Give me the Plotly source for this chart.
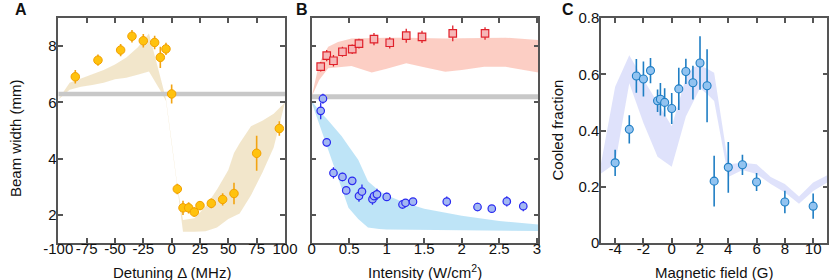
import plotly.graph_objects as go

# ---------------- Panel A data ----------------
a_detuning = [-85, -65, -45, -35, -25, -15, -10, -5, 0, 5, 10, 15, 20, 25, 35, 45, 55, 75, 95]
a_width = [6.91, 7.5, 7.86, 8.35, 8.19, 8.13, 7.6, 7.9, 6.3, 2.92, 2.25, 2.25, 2.1, 2.33, 2.41, 2.55, 2.76, 4.19, 5.07]
a_err = [0.24, 0.2, 0.22, 0.22, 0.24, 0.24, 0.38, 0.22, 0.34, 0.19, 0.25, 0.2, 0.17, 0.15, 0.17, 0.22, 0.38, 0.62, 0.26]

a_band_x = [-100, -90, -80, -70, -60, -50, -40, -30, -20, -10, -5, 0, 5, 10, 20, 30, 40, 50, 55, 60, 70, 80, 90, 100]
a_band_upper = [6.1, 6.7, 6.85, 7.0, 7.15, 7.35, 7.6, 7.95, 8.45, 6.9, 6.12, 4.6, 3.05, 1.82, 1.88, 2.3, 2.9, 3.6, 4.2, 4.55, 5.15, 5.35, 5.6, 6.0]
a_band_lower = [6.1, 6.45, 6.56, 6.62, 6.7, 6.82, 6.88, 6.98, 7.1, 6.42, 6.05, 4.53, 2.98, 1.4, 1.4, 1.42, 1.55, 1.85, 1.95, 2.05, 2.7, 3.5, 4.4, 6.0]
a_ref_width = 6.3
a_range = [-100, 100]

# ---------------- Panel B data ----------------
b_red_int = [0.12, 0.2, 0.29, 0.41, 0.54, 0.63, 0.83, 1.04, 1.26, 1.47, 1.88, 2.31]
b_red_width = [7.27, 7.66, 7.48, 7.8, 7.89, 8.09, 8.25, 8.12, 8.37, 8.33, 8.45, 8.45]
b_red_err = [0.17, 0.2, 0.2, 0.18, 0.17, 0.17, 0.22, 0.2, 0.25, 0.22, 0.28, 0.22]

b_blue_int = [0.15, 0.12, 0.2, 0.29, 0.41, 0.46, 0.54, 0.63, 0.67, 0.81, 0.83, 0.87, 1.0, 1.21, 1.25, 1.35, 1.8, 2.21, 2.4, 2.6, 2.82]
b_blue_width = [6.13, 5.7, 4.58, 3.49, 3.35, 2.87, 3.21, 2.67, 2.83, 2.56, 2.67, 2.73, 2.64, 2.37, 2.43, 2.47, 2.47, 2.28, 2.22, 2.48, 2.31]
b_blue_err = [0.18, 0.3, 0.15, 0.2, 0.15, 0.12, 0.12, 0.2, 0.25, 0.2, 0.15, 0.2, 0.15, 0.15, 0.12, 0.12, 0.18, 0.15, 0.1, 0.18, 0.18]

b_red_band_x = [0.0, 0.1, 0.22, 0.35, 0.53, 0.8, 1.0, 1.26, 1.5, 1.78, 2.0, 2.3, 2.58, 3.02]
b_red_band_upper = [6.2, 7.4, 7.98, 8.15, 8.27, 8.3, 8.3, 8.3, 8.28, 8.27, 8.28, 8.3, 8.3, 8.22]
b_red_band_lower = [6.2, 6.8, 7.21, 7.25, 7.29, 7.06, 7.2, 7.39, 7.25, 7.09, 7.15, 7.27, 7.27, 7.06]

b_blue_band_x = [0.0, 0.1, 0.2, 0.3, 0.4, 0.49, 0.62, 0.75, 0.9, 1.0, 1.25, 1.5, 2.0, 2.5, 3.02]
b_blue_band_upper = [6.05, 5.7, 5.42, 5.1, 4.8, 4.45, 3.96, 3.2, 2.85, 2.7, 2.42, 2.22, 1.97, 1.78, 1.66]
b_blue_band_lower = [6.0, 5.24, 4.47, 3.7, 2.94, 2.25, 1.85, 1.55, 1.5, 1.48, 1.47, 1.46, 1.45, 1.44, 1.43]
b_ref_width = 6.2
b_range = [0, 3.02]

# ---------------- Panel C data ----------------
c_field = [-4, -3, -2.5, -2, -1.5, -1, -0.8, -0.5, 0, 0.5, 1, 1.5, 2, 2.5, 3, 4, 5, 6, 8, 10]
c_fraction = [0.285, 0.404, 0.594, 0.583, 0.613, 0.506, 0.511, 0.5, 0.478, 0.548, 0.61, 0.57, 0.64, 0.559, 0.22, 0.269, 0.278, 0.217, 0.146, 0.131]
c_err = [0.047, 0.05, 0.06, 0.062, 0.045, 0.04, 0.058, 0.05, 0.055, 0.075, 0.045, 0.06, 0.095, 0.13, 0.09, 0.09, 0.036, 0.032, 0.04, 0.045]

c_band_x = [-5, -4, -3, -2, -1, 0, 0.5, 1, 1.5, 2, 2.5, 3, 4, 5, 6, 7, 8, 9, 10, 11]
c_band_upper = [0.283, 0.556, 0.668, 0.581, 0.5, 0.415, 0.5, 0.59, 0.625, 0.63, 0.62, 0.605, 0.28, 0.285, 0.28, 0.235, 0.21, 0.165, 0.215, 0.241]
c_band_lower = [0.247, 0.283, 0.568, 0.427, 0.307, 0.271, 0.36, 0.45, 0.5, 0.55, 0.53, 0.505, 0.235, 0.26, 0.245, 0.21, 0.18, 0.14, 0.185, 0.215]

# ---------------- Figure ----------------
FONT = "Liberation Sans, Arial, sans-serif"
AX = "#555555"
FS = 15
fig = go.Figure()


def band(x, up, lo, color, xa, ya):
    fig.add_trace(go.Scatter(
        x=list(x) + list(x)[::-1], y=list(up) + list(lo)[::-1],
        fill="toself", fillcolor=color, line=dict(width=0), mode="lines",
        hoverinfo="skip", showlegend=False, xaxis=xa, yaxis=ya))


def refline(xr, yv, width, xa, ya):
    fig.add_trace(go.Scatter(
        x=xr, y=[yv, yv], mode="lines", line=dict(color="#c8c8c8", width=width),
        hoverinfo="skip", showlegend=False, xaxis=xa, yaxis=ya))


band(a_band_x, a_band_upper, a_band_lower, "rgba(232,210,160,0.55)", "x", "y")
band(b_red_band_x, b_red_band_upper, b_red_band_lower, "rgba(250,180,165,0.65)", "x2", "y2")
band(b_blue_band_x, b_blue_band_upper, b_blue_band_lower, "rgba(150,212,242,0.62)", "x2", "y2")
band(c_band_x, c_band_upper, c_band_lower, "rgba(210,214,250,0.7)", "x3", "y3")

refline(a_range, a_ref_width, 4.5, "x", "y")
refline(b_range, b_ref_width, 5, "x2", "y2")

fig.add_trace(go.Scatter(
    x=a_detuning, y=a_width, mode="markers",
    error_y=dict(type="data", array=a_err, color="#F2A413", thickness=1.6, width=0),
    marker=dict(symbol="circle", size=8.5, color="#FFC20E", line=dict(color="#F2A000", width=1)),
    showlegend=False, xaxis="x", yaxis="y"))

fig.add_trace(go.Scatter(
    x=b_red_int, y=b_red_width, mode="markers",
    error_y=dict(type="data", array=b_red_err, color="#E0202A", thickness=1.3, width=0),
    marker=dict(symbol="square", size=7.5, color="#F6B7B7", line=dict(color="#E0202A", width=1.2)),
    showlegend=False, xaxis="x2", yaxis="y2"))

fig.add_trace(go.Scatter(
    x=b_blue_int, y=b_blue_width, mode="markers",
    error_y=dict(type="data", array=b_blue_err, color="#2a2af0", thickness=1.3, width=0),
    marker=dict(symbol="circle", size=7.5, color="#A3B8F2", line=dict(color="#2a2af0", width=1.2)),
    showlegend=False, xaxis="x2", yaxis="y2"))

fig.add_trace(go.Scatter(
    x=c_field, y=c_fraction, mode="markers",
    error_y=dict(type="data", array=c_err, color="#1F7EC4", thickness=1.6, width=0),
    marker=dict(symbol="circle", size=8, color="#92C3F0", line=dict(color="#1F7EC4", width=1.1)),
    showlegend=False, xaxis="x3", yaxis="y3"))

axis_common = dict(showline=True, linecolor=AX, linewidth=1.5, mirror="allticks",
                   ticks="inside", ticklen=5, tickwidth=1.5, tickcolor=AX,
                   showgrid=False, zeroline=False, automargin=False,
                   tickfont=dict(family=FONT, size=FS, color="#111"))

a_xticks = [-100, -75, -50, -25, 0, 25, 50, 75, 100]
a_xtext = ["-100", "-75", "-50", "-25", "0", "25", "50", "75", "100"]
b_xticks = [0, 0.5, 1, 1.5, 2, 2.5, 3]
b_xtext = ["0", "0.5", "1", "1.5", "2", "2.5", "3"]
width_ticks = [2, 4, 6, 8]
c_xticks = [-4, -2, 0, 2, 4, 6, 8, 10]
c_xtext = ["-4", "-2", "0", "2", "4", "6", "8", "10"]
c_yticks = [0, 0.2, 0.4, 0.6, 0.8]
c_ytext = ["0", "0.2", "0.4", "0.6", "0.8"]

XSO = -9
YSO = -3
ydom = [1 - 243 / 280, 1 - 18 / 280]
fig.update_layout(
    width=830, height=280, margin=dict(l=0, r=0, t=0, b=0, pad=0, autoexpand=False),
    paper_bgcolor="white", plot_bgcolor="white",
    font=dict(family=FONT, size=FS, color="#111"),
    xaxis=dict(axis_common, domain=[58.3 / 830, 285 / 830], range=a_range, tickangle=0,
               tickvals=a_xticks, ticktext=a_xtext, ticklabelstandoff=XSO, anchor="y"),
    yaxis=dict(axis_common, domain=ydom, range=[1, 9], tickvals=width_ticks,
               ticklabelstandoff=YSO, anchor="x"),
    xaxis2=dict(axis_common, domain=[311.7 / 830, 538.3 / 830], range=b_range, tickangle=0,
                tickvals=b_xticks, ticktext=b_xtext, ticklabelstandoff=XSO, anchor="y2"),
    yaxis2=dict(axis_common, domain=ydom, range=[1, 9], tickvals=width_ticks,
                showticklabels=False, anchor="x2"),
    xaxis3=dict(axis_common, domain=[601 / 830, 827.3 / 830], range=[-5, 11], tickangle=0,
                tickvals=c_xticks, ticktext=c_xtext, ticklabelstandoff=XSO, anchor="y3"),
    yaxis3=dict(axis_common, domain=ydom, range=[0, 0.8], tickvals=c_yticks, ticktext=c_ytext,
                ticklabelstandoff=YSO, anchor="x3"),
)

titles = [
    ("Detuning Δ (MHz)", 171.5, 272, 0),
    ("Intensity (W/cm<sup>2</sup>)", 425, 271, 0),
    ("Magnetic field (G)", 714, 272, 0),
    ("Beam width (mm)", 15, 138, -90),
    ("Cooled fraction", 557, 130.5, -90),
]
for txt, xp, yp, ang in titles:
    fig.add_annotation(text=txt, xref="paper", yref="paper", x=xp / 830, y=1 - yp / 280,
                       showarrow=False, textangle=ang,
                       font=dict(family=FONT, size=FS, color="#111"),
                       xanchor="center", yanchor="middle")

for label, xp in [("A", 21), ("B", 302), ("C", 568)]:
    fig.add_annotation(text="<b>%s</b>" % label, xref="paper", yref="paper",
                       x=xp / 830, y=1 - 9 / 280, showarrow=False,
                       font=dict(family=FONT, size=16, color="#111"),
                       xanchor="center", yanchor="middle")

fig.write_html("out.html", config={"displayModeBar": False},
               post_script="document.body.style.margin='0px';document.body.style.overflow='hidden';")
